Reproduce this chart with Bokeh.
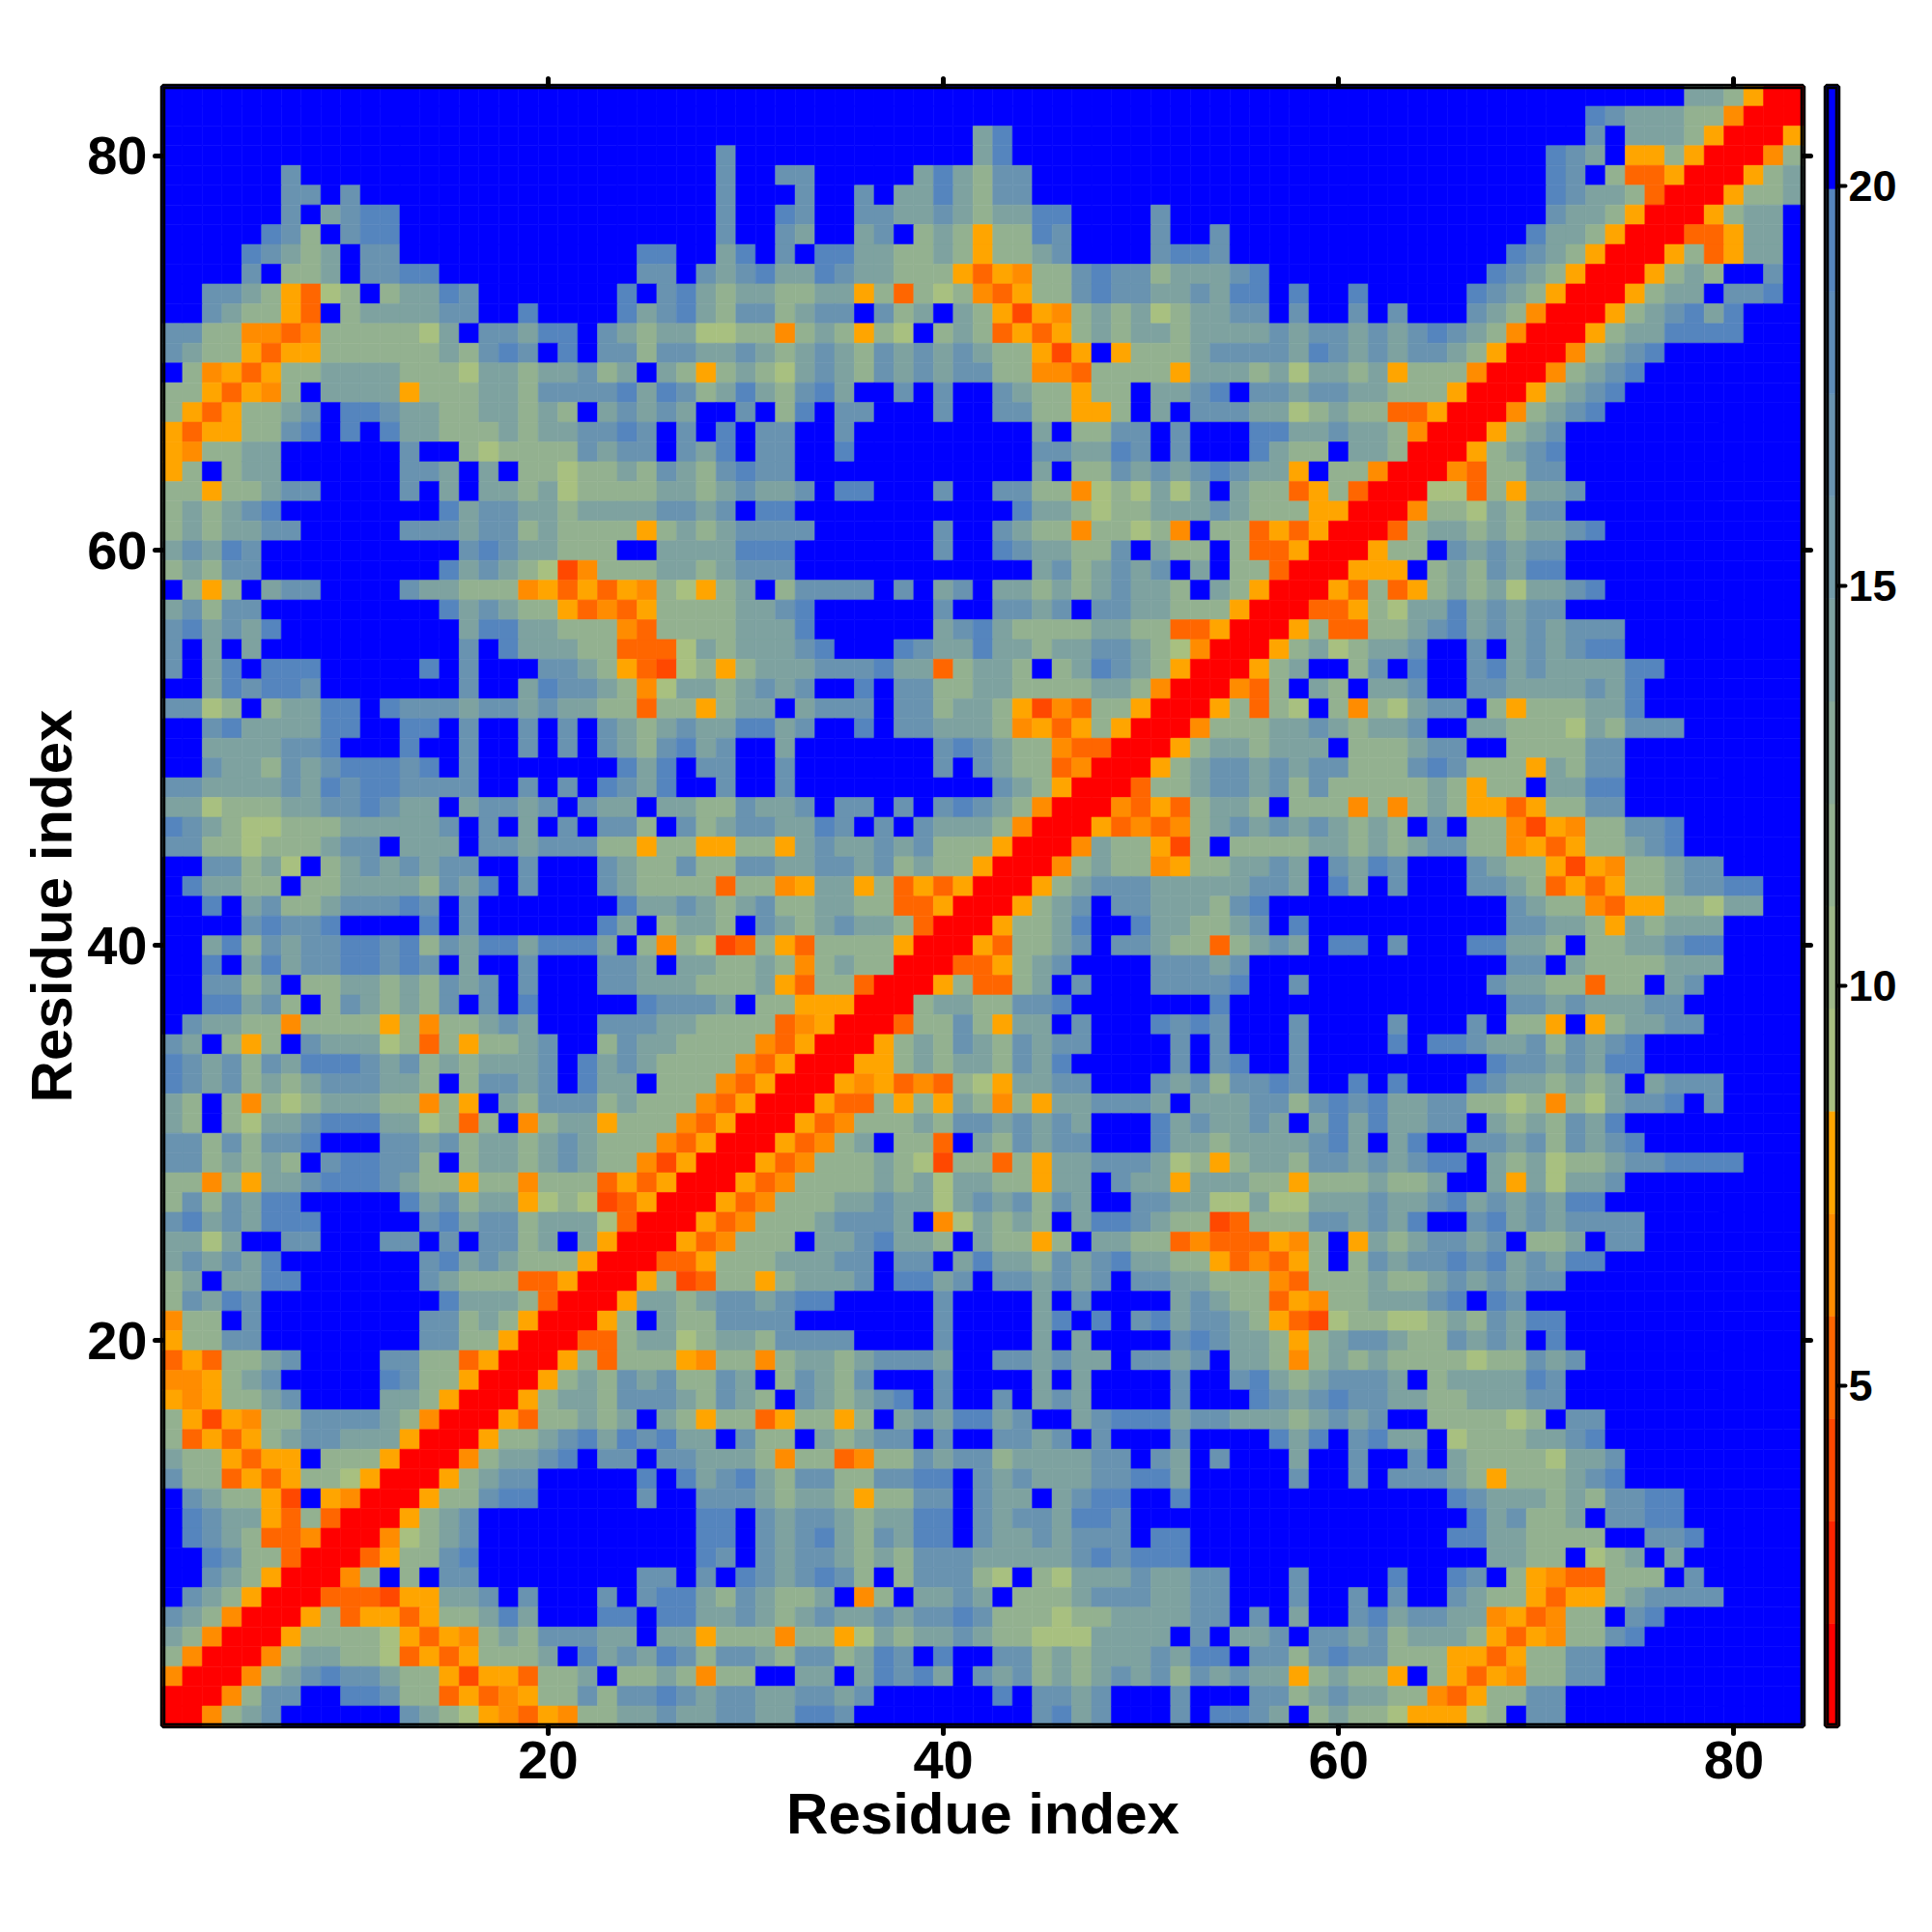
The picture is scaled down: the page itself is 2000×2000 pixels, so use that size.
import re
import numpy as np
from bokeh.plotting import figure
from bokeh.layouts import row
from bokeh.models import ColumnDataSource, LinearColorMapper, FixedTicker, LinearAxis, Range1d, BoxAnnotation
from bokeh.embed import file_html
from bokeh.resources import INLINE

# Contact-map classes, row 83 (top) down to row 1; three chunks per row: columns 1-28, 29-56, 57-83.
# A number repeats the next character.
contact_rows = [
"28.|28.|21.ggmARR",
"28.|28.|16.btgggmmORRR",
"28.|13.gb13.|16.t.gggmARRRA",
"28.|t12.gb13.|14.btg.AAmARRROm",
"6.t21.|t2.tt5.gbgmtt12.|14.bt.mDDARRRAmg",
"6.tt.t18.|t3.t2.t.ggbgmtt12.|14.btggmDRRRAmmg",
"6.t.gtbb16.|t2.bt2.ttggtgmggbb4.t5.|14.tggmARRRAmgg.",
"5.btm.tbb16.|t2.tg2.gt.mgmAmmbt4.t2.t2.|13.bggmARRRDDAgg.",
"4.btgmg.tt12.bb2.|gb.t.bbggmmgmAmmgt4.tbbt2.|12.btgmARRRAmDAgg.",
"4.t.mmg.ttbb10.tt.t|gtbggbtggmmmADAOmmtbttmgggtb|11.btgmARRRAmgm2.t.",
"2.ttgmADlm.mggbt7.b.tbg|mggmmggAmDmlmODAmmtbttggtgbb|.b2.b5.btgmARRRAmgg.ttb.",
"2.tgmmAD.mggggtt2.b4.bgtbg|mttmgtt.tmg.gmAXAOmgmglmggtt|.t2.t.t3.tgmORRRAmgtbgb3.",
"ttmmOODOmmmmmlg.ttgbb.tgmggl|lmmOmgmAml.mgmDADAmgmggmgggg|tgttgtgtbtgmORRRAmggbbbb3.",
"tgmmADAAmmmmmmgmtbt.b.ttmttg|gtgmgtgmtgtgtgmmAXA.Ammmgttt|tgbtgtgttgmARRROmgtb7.",
".mOADAmmggggmmmlggmggtmg.gmA|mgmlgtgmtgtgttmmOODmmmmAgggm|glggmgAmmmORRROmgtb8.",
"mmADAOm.ggggAmmmggmttttbgbtm|gbgmtbg2.t.t2.tgmmAmm.ggtb.t|tgttggmmmARRRAmgtb9.",
"mADAmmgt.bbtggmmggmgm.gtgtg.|.t.mb.tt3.t2.ttmmAAm.g.tttg|glmgmmDDARRROmgtb10.",
"ADAAmmtb.b.bggmmmgmggttbt.t.|b.tt2.t9.g.mmtt.t3.b|bggtggmORRRAmgt12.",
"AOmmgg6.t2.mlmmmmtgtt.tg|b.tt2.b9.ttggbt.t3.b|gmm.ggmRRRAmgtb12.",
"Am.mgg6.ttg.g.mmlmmgmtgm|tbtt12.g.mmtgtgtbtg|gA.mmORRRODmmtt12.",
"mmAmmgtt4.t.g.ggmglmmmmggm|gtggt.bb3.t2.ttmmOlmlglg.gm|mDAmDRRRllDmAggt11.",
"mgmgtb8.bgttggmggggttg|t.bb11.bggmlmmgggtgm|mmAARRROmmlgmtt12.",
"mgmggtt5.tttgttmgmmmmAmgm|gtttt6.t2.tgmmOmmlmO.mmD|ADARRRDmggmgmggtb10.",
"gtgbt10.tbtggmmm2.ggg|gbbb7.t2.btggmmt.gmm.mD|DARRRAmm.tgtgtt12.",
"mgmtt9.bgtgmlXOmmmggm|gttt12.gtmgtgt.g.mm|DRRRAAA.mgmtgbb12.",
".mAm.gtt4.tggmmmOADADAOmlA|mg.mtttt.t.gt.ggmgmgtggm.gmA|RRRADmDAmgmglggtb10.",
"gtmtt9.bgtgmmADODAmmm|mggtb6.t2.ttgt.ttggmmmAR|RRDDAmlggbgtgtt12.",
"tbgtgb9.gbbggmmmODmmm|mgggb6.gtbgmmmmggmmDDARR|RAmDDmmgtbgtgtgttt9.",
"t.g.g10.t.bgggmmDDDlg|mgggtb3.btggbggmggttgmlORRR|Amglmggt2.t.gtgtbb9.",
"t.gb.bbb5.b.t3.ttgmADXlm|AmgggtttbggDmggm.mgbtgmARRRA|mg2.mt.b2.tbgtggggbb7.",
"2.gbtbbt7.t2.gbttgmOlgg|mgtgt2.b.ttmmggmmmmggmORRROD|m.gm.ggt2.ttggggtgb8.",
"ttlm.mggbb.btttgttgtggmmDmmA|mgg.gttt.ttmggmAXODmmARRRAmD|ml.mOmlgtt.mAmmmggb8.",
"2.tbggggbb2.bb.t2.t.t.tgmgtg|gbbgt2.b.ttgggmOADAmARRROmmm|ggtgmggt2.ggmmmlgmttt6.",
"2.ggggttb3.b2.t2.t.t.tgmtbg|t2.g7.tbtgmmODDRRRAmggm|ggg.mmmgtt2.mmmmtt9.",
"2.tggmtgtbbbtb.t7.bgb.t|t2.t7.t.tgmmDORRRAmgttg|tgttmmmtbtmmmAgmtt9.",
"ttggggtgbtbbtttt2.t.t.btgb2.|t2.t10.tgmARRRDmmgttg|tmtmmmmmgmAmm.ggbb9.",
"gglmmmggttbtgg.gttgt.tgg.ggm|mtggt.tt.t.tbtgmORRRODADmggm|.mmmOmOmgmAADAmmtt9.",
"btgmllmmmgggggt.t.g.t.ttm.tm|gttggbt.t.tgggmORRRADODOmgtg|tgtgmgm.t.mmOXAOmmttb6.",
"ttmmlmmmgtt.ggg.ttgtttmmAmmA|AmmAgtggtgtmmmARRROgmmAXm.mm|mmggmgmgttmmOADAmmgtb6.",
"2.ttmgl.mgtgtgtt2.t3.tgmmtm|mttggttgtmgmmARRROmgmmOAmmgg|tg.tgbt3.tgmmAXAOmmgtt4.",
".bggmm.mmggggmtgb.t3.tgmmmm|DmmOAggAmDADARRRAmgtttgggggt|tg.bg.t3.ttgmDADAmmgttbb2.",
"2.b.gtmmgtttbt.t7.bggtg|mgtmmggmmDDARRRAmgt.ttgggmtb|12.tgmmODAAmmlgg2.",
"4.tbttb4.b.t6.bg.mgg|m.tgmgtggmDRRRAmmgb2.bggmmgt|.b10.ttggmAgmggg4.",
"2.gbmtgttbbtbmtgbbgbbbg.mOml|XDmADmmmmARRRADmmgt.ttgmmDmg|tg.bb.t3.bbggm.mmggtbb4.",
"2.b.gbgttbbtbt.g2.t3.ttg.gg|mmgmOmgmmRRRDDAmgt4.tttgt.|12.tt.gmmmmggg4.",
"2.ttmg.mmggmgmtgt.t3.ttgggm|mmgADmmDRRRAmDDmg.t3.ttttb.|.t9.tggmmDmm.gt5.",
"2.bbgtm.mtgmgmt.t.b5.bttt|g.mmAAARRRmggmmttb7.b2.|12.ttgtgggtt6.",
".tggmmOmmmmAmOmmgtg3.tttggm|mmmDOARRRDmmtmAgg.t3.btbt2.|.t4.t3.t.mmA.Amggtt5.",
"tg.mAm.tggglmDmAmmgt2.mtggmm|mmODARRRAmgmtgmtgtt4.t.t2.|.t4.b.bbtggtmtgtb8.",
"btgtmtgbbbtgtmgmgggt.bgtgmmm|mODARRRAAmgmggmtgb5.t.tb.|.t9.bttgtgbb8.",
"btgtmgmgtttggm.mttgt.bgg.mmm|ODARRRAOADODmlAggtt3.tgtmtt|bt2.b.b3.btggmgmg.gttt4.",
"gm.mOmlmgggmmOmA.gmtttmgmmmO|DARRRADDmAmAgmOmAggtttg.gggt|tmtbtbggttmmlmOmlgttb.t4.",
"gm.mlggtbbbgglmDm.OmggAmmmOD|ARRRADOmmmgmttgtgtg3.bgtggt|g.gbgbggtt.gmgmtgb9.",
"ttmtmttb3.ttgtmggmgtgmmmODA|RRRADOmg.mmD.gmtgtt3.bggmgg|ggtbg.gb2.ttgtmtgtb8.",
"ttmgmgm.tbbttm.mggmgtgmmOXAR|RRADOmmmgmlXmmDmAggtttglmAmg|gmttgtgtbb.gmglmmgttbbbb3.",
"mmOmAggtbbbtgmmAmmOmmmDADARR|RADOmmmmgmglggmmAgg.tggAgggm|mAmmmgmmg2.gAglggt9.",
"mtmtgbb5.bgtmggAlmlXDARRR|ADOmmmggtgglgtgtmtg2.ttggllg|llgggtggtbgtgtgbb10.",
"tbgtgbbb5.tbgttmggglDRRRA|DOmmmgtttg.Olgmgm.gbbtgmmXDm|mmttgtgb2.tbgtgtttt8.",
"gglg2.tt3.tt.t.ttmg.gARRRAD|Ommm.ggtbggm.gmmAm.ggmmDODDD|AOm.Agmgttgt.mmg.tt8.",
"gtgtgb7.tbgtgmmmARRRDDA|mmmgggtt.tt.gbggmtgtbggmmADO|DAm.mtgttbtbgtgbb10.",
"mg.ggbb6.tgmmmDDARRRAmXD|mmAmgggt.bbgt.ttgtgt.ttggmmm|ODmmmgmmgtgtgtt12.",
"mtgbt9.bgggmDRRRAggmg|ttgtbb5.t4.g.t4.gtgmm|DAOmmgggtb.bt14.",
"Omm.t8.ttmgmARRRAm.gmm|tttt7.t4.gb.b.tbgttgm|ADXlmmllmgmtgbb12.",
"Ammtt8.ttmmARRRDDmgglm|ggmtttt4.t4.g.g4.tbtgg|mAmgttgmmtgtg.b12.",
"DADmmgt4.ttmmDARRRAmDmmmAO|mmOmggmgtttg2.ttgtgg.ttgt.gg|mOmgmgmmmmlmmtgt11.",
"OOAmgt5.btmmARRRAmgmtgtmm|tg.mtgmt3.t4.g.g4.t2.tb|gmgtttg.mggggbt12.",
"AOAmmgt4.ggmARRRAmggmtttgm|tgm.tgmgtb.t2.t.gtg4.t3.b|tgtbttggmmgggtt12.",
"mAXAOmmttttgmORRRADmmgmg.gmA|mmDAmmAm.gtgbbgt2.gtbbbgttgg|gmgtgt2.mmmmlm.tt10.",
"mDADAmgttgggARRRAmmgtbgbtbgg|.tmm.gmgtt.t2.ttgt.t3.t4.|bgb.tbgg.lmmmggtb10.",
"gmmADAA.mmmARRROmggtb.tt.ttg|ggmOmmDOmmtgttmggggtt.tg.t2.|.g2.t2.t.gmmmmlggt9.",
"tmmDADAmmlARRRAmgtt5.b.bg|tbgmttmmttbb.tgtgggttbbg4.|.t2.t.tttgmAmmmgtb9.",
".tgmmAX.AORRRAmmtbb5.t2.t|ttgmggmAmmtt.tgg.gtbb2.b4.|9.btgggmgmttbb6.",
".btggADmDRRRAmgt11.b|b.tgttgmggbb.tgttgbbt7.|10.bgtmmg.ttbb6.",
".btgmDDORRROlmgt11.b|b.tgtbgmtgbb.tggtgttt.bb4.|9.bbggmmmm2.ttb5.",
"2.btmmDRRRDAmmtb11.b|t.tgttgmgmtttgggggtbtbbb4.|11.ggmm.lmg.g6.",
"2.tgmARRROm.m.tt8.tt.t|.btgtbtm.mtttml.mlgggtggtt2.|.t4.b2.bt.mAODDmmm.t5.",
".tgmARRRDDDXAAggt.t3.t.tbbg|mtgmmg.Om.ggtg.mmmgtttggtt2.|.t2.t.t2.tgmmADAAmgtttt4.",
"tgmORRRAmDAADAmmgbg3.bb.bbg|gtgmgtggtgttbtmmmlmmggggtt.t|.g2.tbgttggOADOmm.tb7.",
"gmORRRAmmmmlADAOmgmtttgg.ggA|mmmOmmAlgmggtgmmlllgggg.t.gg|t.ttgtmgggmADAOmmtb8.",
"mORRROmggmmlDADAmmmg.bgtgbtm|ttgmttmgbt.b2.ttmgmgggtgbb.t|tmtbttmmmAADAmmtt10.",
"ORRROmgtbttgmmAXAADmmg.mmgmO|mm2.gg.gbtbg.tgtmgmgtgtmtgtg|gAmgmmA.mADAOmmtt10.",
"RRROmtt2.bbtmmDADOAmmtmttbtg|ttggttgt6.b.ttgt3.t3.t|tmgtggmmODAmmtt12.",
"RROmgt6.tgmlAODAOmmggtgg|ttggbbt9.tbgt3.t.bbt|g.mgmmlAAAlm.tt12.",
]

class_values = {"R": 1.4, "X": 4.0, "D": 5.2, "O": 6.5, "A": 7.8,
                "l": 9.1, "m": 11.6, "g": 14.2, "t": 16.8, "b": 19.3, ".": 20.6}
palette = ["#ff0000", "#ff2400", "#ff4800", "#ff6600", "#ff8c00", "#ffa500",
           "#a8c080", "#9eb888", "#93b190", "#89aa98", "#7ea2a0", "#739ba8",
           "#6993b0", "#5e8cb8", "#5585be", "#0000ff"]
scale_low, scale_high = 0.75, 21.24
axis_ticks = [20, 40, 60, 80]
bar_ticks = [5, 10, 15, 20]
x_title = "Residue index"
y_title = "Residue index"


def expand(chunk):
    return re.sub(r"(\d+)(.)", lambda m: m.group(2) * int(m.group(1)), chunk)


xs, ys, vals = [], [], []
for i, line in enumerate(contact_rows):
    chunks = [expand(c) for c in line.split("|")]
    assert [len(c) for c in chunks] == [28, 28, 27], (83 - i, [len(c) for c in chunks])
    for j, ch in enumerate("".join(chunks)):
        xs.append(j + 1)
        ys.append(83 - i)
        vals.append(class_values[ch])
assert len(contact_rows) == 83, len(contact_rows)

mapper = LinearColorMapper(palette=palette, low=scale_low, high=scale_high)
cell_fill = {"field": "v", "transform": mapper}

p = figure(width=1880, height=1968, frame_width=1698, frame_height=1697,
           x_range=Range1d(0.5, 83.5), y_range=Range1d(0.5, 83.5),
           output_backend="svg", toolbar_location=None,
           min_border_left=168, min_border_right=14, min_border_top=89, min_border_bottom=182)
p.rect("x", "y", width=1, height=1, source=ColumnDataSource(dict(x=xs, y=ys, v=vals)),
       fill_color=cell_fill, line_color=cell_fill, line_width=0.6)
p.grid.visible = False
p.outline_line_color = "black"
p.outline_line_width = 5.5
p.add_layout(BoxAnnotation(left=0.5, right=83.5, bottom=0.5, top=83.5, fill_alpha=0,
                           line_color="black", line_width=5.5, line_alpha=1, level="overlay"))


def style_axis(ax, labelled=True):
    ax.ticker = FixedTicker(ticks=axis_ticks)
    ax.axis_line_color = None
    ax.major_tick_line_color = "black"
    ax.major_tick_line_width = 5
    ax.major_tick_line_cap = "round"
    ax.major_tick_out = 8
    ax.major_tick_in = 0
    ax.minor_tick_line_color = None
    ax.major_label_text_font = "Liberation Sans"
    ax.major_label_text_font_style = "bold"
    ax.major_label_text_color = "black"
    ax.major_label_text_font_size = "56px"
    if not labelled:
        ax.major_label_overrides = {t: "" for t in axis_ticks}
    ax.axis_label_text_font = "Liberation Sans"
    ax.axis_label_text_font_style = "bold"
    ax.axis_label_text_color = "black"
    ax.axis_label_text_font_size = "60px"


for ax in (p.xaxis[0], p.yaxis[0]):
    style_axis(ax)
p.xaxis[0].axis_label = x_title
p.yaxis[0].axis_label = y_title
p.xaxis[0].major_label_standoff = 8
p.xaxis[0].axis_label_standoff = 0
p.yaxis[0].major_label_standoff = 8
p.yaxis[0].axis_label_standoff = 0
p.yaxis[0].major_label_orientation = "horizontal"

top_ax = LinearAxis()
right_ax = LinearAxis()
style_axis(top_ax, False)
style_axis(right_ax, False)
top_ax.major_label_standoff = 0
right_ax.major_label_standoff = 0
p.add_layout(top_ax, "above")
p.add_layout(right_ax, "right")

# colour bar
edges = np.linspace(scale_low, scale_high, len(palette) + 1)
bar = figure(width=112, height=1968, frame_width=12, frame_height=1697,
             x_range=Range1d(0, 1), y_range=Range1d(scale_low, scale_high),
             x_axis_type=None, y_axis_location="right",
             output_backend="svg", toolbar_location=None,
             min_border_left=10, min_border_right=90, min_border_top=89, min_border_bottom=182)
bar.quad(left=0, right=1, bottom=edges[:-1], top=edges[1:], fill_color=palette, line_color=palette, line_width=0.5)
bar.grid.visible = False
bar.outline_line_color = "black"
bar.outline_line_width = 5.5
bar.add_layout(BoxAnnotation(left=0, right=1, bottom=scale_low, top=scale_high, fill_alpha=0,
                             line_color="black", line_width=5.5, line_alpha=1, level="overlay"))
ya = bar.yaxis[0]
ya.ticker = FixedTicker(ticks=bar_ticks)
ya.axis_line_color = None
ya.major_tick_line_color = "black"
ya.major_tick_line_width = 4
ya.major_tick_line_cap = "round"
ya.major_tick_out = 8
ya.major_tick_in = 0
ya.minor_tick_line_color = None
ya.major_label_text_font = "Liberation Sans"
ya.major_label_text_font_style = "bold"
ya.major_label_text_color = "black"
ya.major_label_text_font_size = "45px"
ya.major_label_standoff = 3

layout = row(p, bar, spacing=0)
open("out.html", "w").write(file_html(layout, INLINE))
